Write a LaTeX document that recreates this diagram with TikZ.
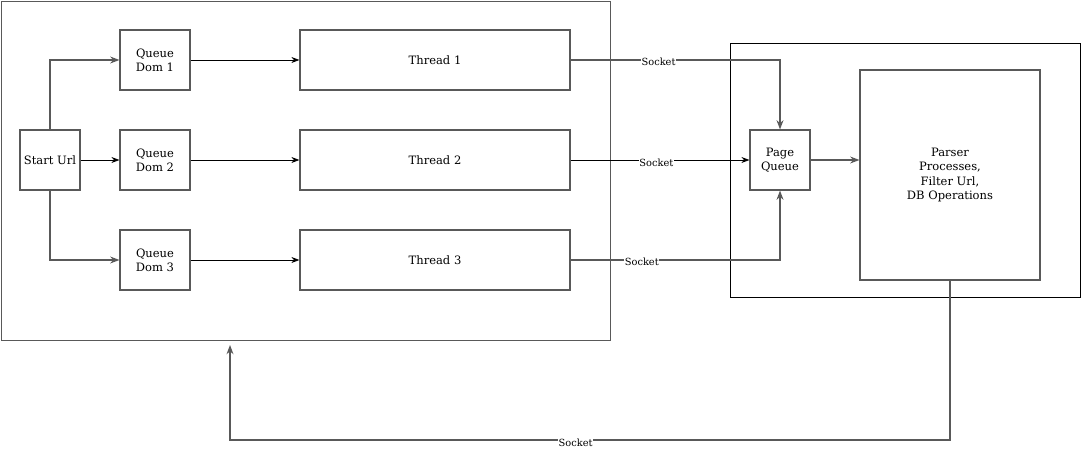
\documentclass[tikz,border=0pt]{standalone}
\usepackage{fontspec}
\setmainfont{DejaVu Serif}
\usetikzlibrary{arrows.meta, positioning, calc}

\begin{document}
\begin{tikzpicture}[x=0.025cm, y=-0.025cm, >=Stealth,
    box/.style={draw=gray!70!black, line width=0.8pt, inner sep=1pt,
                align=center, font=\fontsize{8.2}{10.2}\selectfont},
    link/.style={->, draw=gray!70!black, line width=0.8pt},
    plain/.style={->, draw=black, line width=0.6pt},
    sock/.style={fill=white, inner sep=0.5pt, font=\fontsize{7}{7}\selectfont}]
  \useasboundingbox (0,0) rectangle (1082,451);

  % frames
  \node[draw=gray!70!black, line width=0.8pt, minimum width=609*0.025cm,
        minimum height=339*0.025cm, anchor=north west, inner sep=0pt] (crawler) at (1,1) {};
  \node[draw=black, line width=0.7pt, minimum width=350*0.025cm,
        minimum height=254*0.025cm, anchor=north west, inner sep=0pt] (server) at (730,43) {};

  \node[box, minimum width=1.5cm, minimum height=1.5cm] (start) at (50,160) {Start Url};
  \foreach \i/\y in {1/60, 2/160, 3/260} {
    \node[box, minimum width=1.75cm, minimum height=1.5cm] (dom\i) at (155,\y) {Queue\\Dom \i};
    \node[box, minimum width=6.75cm, minimum height=1.5cm] (thr\i) at (435,\y) {Thread \i};
    \draw[plain] (dom\i) -- (thr\i);
  }
  \node[box, minimum width=1.5cm, minimum height=1.5cm] (page) at (780,160) {Page\\Queue};
  \node[box, minimum width=4.5cm, minimum height=5.25cm] (parser) at (950,175)
       {Parser\\Processes,\\Filter Url,\\DB Operations};
  \coordinate (back) at (230,345);

  \draw[link] (start.north) |- (dom1.west);
  \draw[plain] (start) -- (dom2);
  \draw[link] (start.south) |- (dom3.west);

  \draw[link] (thr1.east) -| node[sock, pos=0.21, yshift=-1pt] {Socket} (page.north);
  \draw[plain] (thr2) -- node[sock, pos=0.48, yshift=-2pt] {Socket} (page);
  \draw[link] (thr3.east) -| node[sock, pos=0.17, yshift=-1pt] {Socket} (page.south);
  \draw[link] (page) -- (parser.west |- page);
  \draw[link] (parser.south) -- (950,440) -| node[sock, pos=0.26, yshift=-2pt] {Socket} (back);
\end{tikzpicture}
\end{document}
